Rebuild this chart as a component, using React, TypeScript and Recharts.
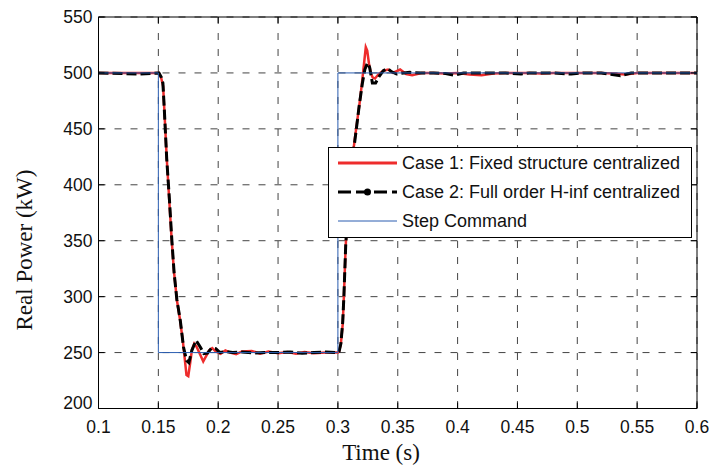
import { LineChart, Line, XAxis, YAxis, CartesianGrid, ReferenceLine, Legend } from 'recharts';

const xTicks = [0.1, 0.15, 0.2, 0.25, 0.3, 0.35, 0.4, 0.45, 0.5, 0.55, 0.6];
const yTicks = [200, 250, 300, 350, 400, 450, 500, 550];

const seriesNames = [
    'Case 1: Fixed structure centralized',
    'Case 2: Full order H-inf centralized',
    'Step Command',
];

const stepTime = [0.1, 0.15, 0.15, 0.3, 0.3, 0.6];
const stepPower = [500, 500, 250, 250, 500, 500];

const case1Time = [
    0.1, 0.135, 0.15, 0.1505, 0.1525, 0.154, 0.155, 0.157, 0.159, 0.161, 0.163, 0.1655, 0.168, 0.1705,
    0.172, 0.1735, 0.175, 0.1765, 0.178, 0.18, 0.182, 0.185, 0.1875, 0.19, 0.1925, 0.195, 0.198, 0.202,
    0.206, 0.21, 0.215, 0.22, 0.228, 0.235, 0.242, 0.25, 0.258, 0.265, 0.272, 0.28, 0.29, 0.3, 0.301,
    0.3025, 0.304, 0.305, 0.3065, 0.308, 0.31, 0.312, 0.314, 0.316, 0.318, 0.32, 0.322, 0.3233, 0.3245,
    0.326, 0.3275, 0.329, 0.331, 0.334, 0.338, 0.342, 0.346, 0.352, 0.357, 0.362, 0.37, 0.38, 0.39, 0.4,
    0.41, 0.42, 0.43, 0.44, 0.46, 0.47, 0.48, 0.5, 0.52, 0.53, 0.54, 0.55, 0.6,
];
const case1Power = [
    500, 500, 500, 500, 495, 488, 467, 424, 388, 353, 323, 297, 280, 260,
    245, 230, 229, 240, 252, 258, 255, 248, 242, 247, 252, 254, 251, 249,
    252, 250, 248.5, 251, 251.5, 249, 251, 249.5, 250.5, 249, 250.5, 249.5, 250, 250, 251,
    258, 275, 300, 345, 373, 403, 423, 440, 456, 472, 490, 510, 523, 520,
    508, 500, 496, 495, 499, 502, 503, 500, 503, 499, 498, 500, 500, 499.5, 500,
    498.5, 498, 499.5, 500, 500, 499.5, 500, 500, 500, 499.5, 498.5, 500, 500,
];

const case2Time = [
    0.1, 0.135, 0.15, 0.1505, 0.1525, 0.1538, 0.155, 0.157, 0.1593, 0.1613, 0.1632, 0.1655, 0.1683,
    0.171, 0.1735, 0.1755, 0.178, 0.1815, 0.185, 0.188, 0.191, 0.1945, 0.198, 0.2015, 0.206, 0.212,
    0.22, 0.23, 0.24, 0.25, 0.26, 0.27, 0.28, 0.29, 0.298, 0.3, 0.301, 0.3025, 0.304, 0.305, 0.3065,
    0.308, 0.31, 0.312, 0.314, 0.316, 0.3177, 0.3205, 0.3225, 0.3247, 0.3265, 0.3288, 0.3315, 0.3345,
    0.338, 0.3414, 0.345, 0.349, 0.355, 0.36, 0.37, 0.38, 0.39, 0.397, 0.405, 0.42, 0.44, 0.453, 0.46,
    0.48, 0.495, 0.505, 0.52, 0.536, 0.545, 0.56, 0.6,
];
const case2Power = [
    500, 499, 500, 500, 496, 491, 467, 423, 386, 350, 321, 297, 279,
    255, 243, 241, 252, 261, 255, 249, 249.5, 254, 253.5, 250, 251, 250,
    250.5, 249.5, 250, 250, 250.5, 249.5, 250, 250.5, 250, 250, 251, 258, 277, 300, 345,
    373, 402, 422, 438, 455, 470, 491, 503, 509, 505, 491, 491, 497,
    502, 504, 501, 499, 500, 500.5, 500, 500, 499.5, 498, 500, 500, 500, 499, 500,
    500, 499, 500, 500, 497.5, 500, 500, 500,
];

const toPoints = (t: number[], p: number[]) => t.map((x, i) => ({ t: x, p: p[i] }));

const stepData = toPoints(stepTime, stepPower);
const case1Data = toPoints(case1Time, case1Power);
const case2Data = toPoints(case2Time, case2Power);

const RED = '#ee2c2c';
const BLUE = '#2a5db0';

// plot box in page pixels (body margin is zeroed below)
const PLOT = { left: 98.5, right: 697, top: 17, bottom: 408.5 };
const TICK_FONT = '"Liberation Sans", Arial, sans-serif';
const TITLE_FONT = '"Liberation Serif", "Times New Roman", serif';

const XTick = ({ x, payload }: any) => (
    <g>
        <line x1={x} x2={x} y1={PLOT.bottom} y2={PLOT.bottom - 6} stroke='#000' />
        <line x1={x} x2={x} y1={PLOT.top} y2={PLOT.top + 6} stroke='#000' />
        <text x={x} y={PLOT.bottom + 24} textAnchor='middle' fontFamily={TICK_FONT} fontSize={17.5} fill='#111'>
            {payload.value}
        </text>
    </g>
);

const YTick = ({ y, payload }: any) => (
    <g>
        <line x1={PLOT.left} x2={PLOT.left + 6} y1={y} y2={y} stroke='#000' />
        <line x1={PLOT.right - 6} x2={PLOT.right} y1={y} y2={y} stroke='#000' />
        <text
            x={PLOT.left - 6}
            y={y + (payload.value === 200 ? -6 : 0)}
            dy='0.35em'
            textAnchor='end'
            fontFamily={TICK_FONT}
            fontSize={17.5}
            fill='#111'
        >
            {payload.value}
        </text>
    </g>
);

const LegendBox = () => (
    <svg width={364} height={91} style={{ display: 'block' }}>
        <rect x={0.5} y={0.5} width={363} height={90} fill='#fff' stroke='#000' />
        <line x1={10} x2={69} y1={16} y2={16} stroke={RED} strokeWidth={3} />
        <line x1={10} x2={69} y1={45} y2={45} stroke='#000' strokeWidth={3} strokeDasharray='13 5' />
        <circle cx={39.5} cy={45} r={3.5} fill='#000' />
        <line x1={10} x2={69} y1={74} y2={74} stroke={BLUE} strokeWidth={1} />
        {seriesNames.map((name, i) => (
            <text key={name} x={74} y={16 + i * 29} dy='0.36em' fontFamily={TICK_FONT} fontSize={18} fill='#111'>
                {name}
            </text>
        ))}
    </svg>
);

const PowerChart = () => {
    return (
        <LineChart
            width={709}
            height={467}
            margin={{ top: 17, right: 12, bottom: 57.5, left: 97.5 }}
        >
            <CartesianGrid stroke='#444' strokeDasharray='7 9' />
            <XAxis
                dataKey='t'
                type='number'
                domain={[0.1, 0.6]}
                ticks={xTicks}
                interval={0}
                allowDataOverflow
                height={1}
                tickLine={false}
                tickSize={0}
                tickMargin={0}
                axisLine={{ stroke: '#000' }}
                tick={<XTick />}
                label={{
                    content: () => (
                        <text x={381} y={460} textAnchor='middle' fontFamily={TITLE_FONT} fontSize={23} fill='#111'>
                            Time (s)
                        </text>
                    ),
                }}
            />
            <YAxis
                type='number'
                domain={[200, 550]}
                ticks={yTicks}
                interval={0}
                allowDataOverflow
                width={1}
                tickLine={false}
                tickSize={0}
                tickMargin={0}
                axisLine={{ stroke: '#000' }}
                tick={<YTick />}
                label={{
                    content: () => (
                        <text
                            x={24}
                            y={250}
                            textAnchor='middle'
                            dy='0.35em'
                            transform='rotate(-90 24 250)'
                            fontFamily={TITLE_FONT}
                            fontSize={23}
                            fill='#111'
                        >
                            Real Power (kW)
                        </text>
                    ),
                }}
            />
            <ReferenceLine x={0.6} stroke='#000' />
            <ReferenceLine y={550} stroke='#000' />
            <Line
                data={case1Data}
                dataKey='p'
                type='linear'
                stroke={RED}
                strokeWidth={2.5}
                dot={false}
                isAnimationActive={false}
            />
            <Line
                data={case2Data}
                dataKey='p'
                type='linear'
                stroke='#000'
                strokeWidth={3}
                strokeDasharray='10 4'
                dot={false}
                isAnimationActive={false}
            />
            <Line
                data={stepData}
                dataKey='p'
                type='linear'
                stroke={BLUE}
                strokeWidth={1}
                dot={false}
                isAnimationActive={false}
            />
            <Legend
                layout='vertical'
                align='center'
                verticalAlign='middle'
                content={<LegendBox />}
                wrapperStyle={{ left: 328, top: 147, width: 364, height: 91, bottom: 'auto', right: 'auto' }}
            />
        </LineChart>
    );
};

export default function App() {
    return (
        <>
            <style>{'body { margin: 0; }'}</style>
            <div style={{ position: 'relative', width: 709, height: 467, background: '#fff' }}>
                <PowerChart />
            </div>
        </>
    );
}
